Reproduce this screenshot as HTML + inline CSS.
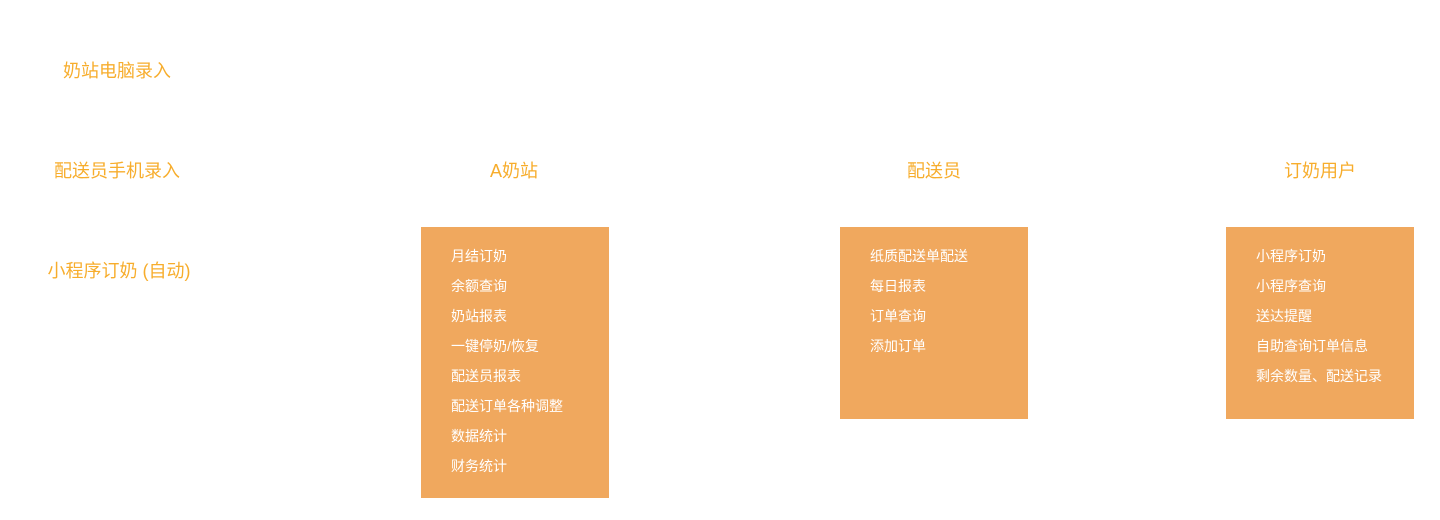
<!DOCTYPE html>
<html><head><meta charset="utf-8"><style>
body{margin:0;width:1440px;height:520px;background:#fff;position:relative;overflow:hidden;font-family:"Liberation Sans","Noto Sans CJK SC",sans-serif}
.l{position:absolute;color:#f7ad2c;font-size:18px;line-height:20px;white-space:nowrap;transform:translateX(-50%)}
.b{position:absolute;background:#f0a85e;color:#fff;font-size:14px;box-sizing:border-box;padding-top:17px;padding-left:30px}
.b div{height:30px;line-height:24px;white-space:nowrap}
</style></head><body>
<div class="l" style="left:117px;top:61px">奶站电脑录入</div>
<div class="l" style="left:117px;top:161px">配送员手机录入</div>
<div class="l" style="left:119px;top:261px">小程序订奶 (自动)</div>
<div class="l" style="left:514px;top:161px">A奶站</div>
<div class="l" style="left:934px;top:161px">配送员</div>
<div class="l" style="left:1320px;top:161px">订奶用户</div>
<div class="b" style="left:421px;top:227px;width:188px;height:271px">
<div>月结订奶</div><div>余额查询</div><div>奶站报表</div><div>一键停奶/恢复</div><div>配送员报表</div><div>配送订单各种调整</div><div>数据统计</div><div>财务统计</div></div>
<div class="b" style="left:840px;top:227px;width:188px;height:192px">
<div>纸质配送单配送</div><div>每日报表</div><div>订单查询</div><div>添加订单</div></div>
<div class="b" style="left:1226px;top:227px;width:188px;height:192px">
<div>小程序订奶</div><div>小程序查询</div><div>送达提醒</div><div>自助查询订单信息</div><div>剩余数量、配送记录</div></div>
</body></html>
